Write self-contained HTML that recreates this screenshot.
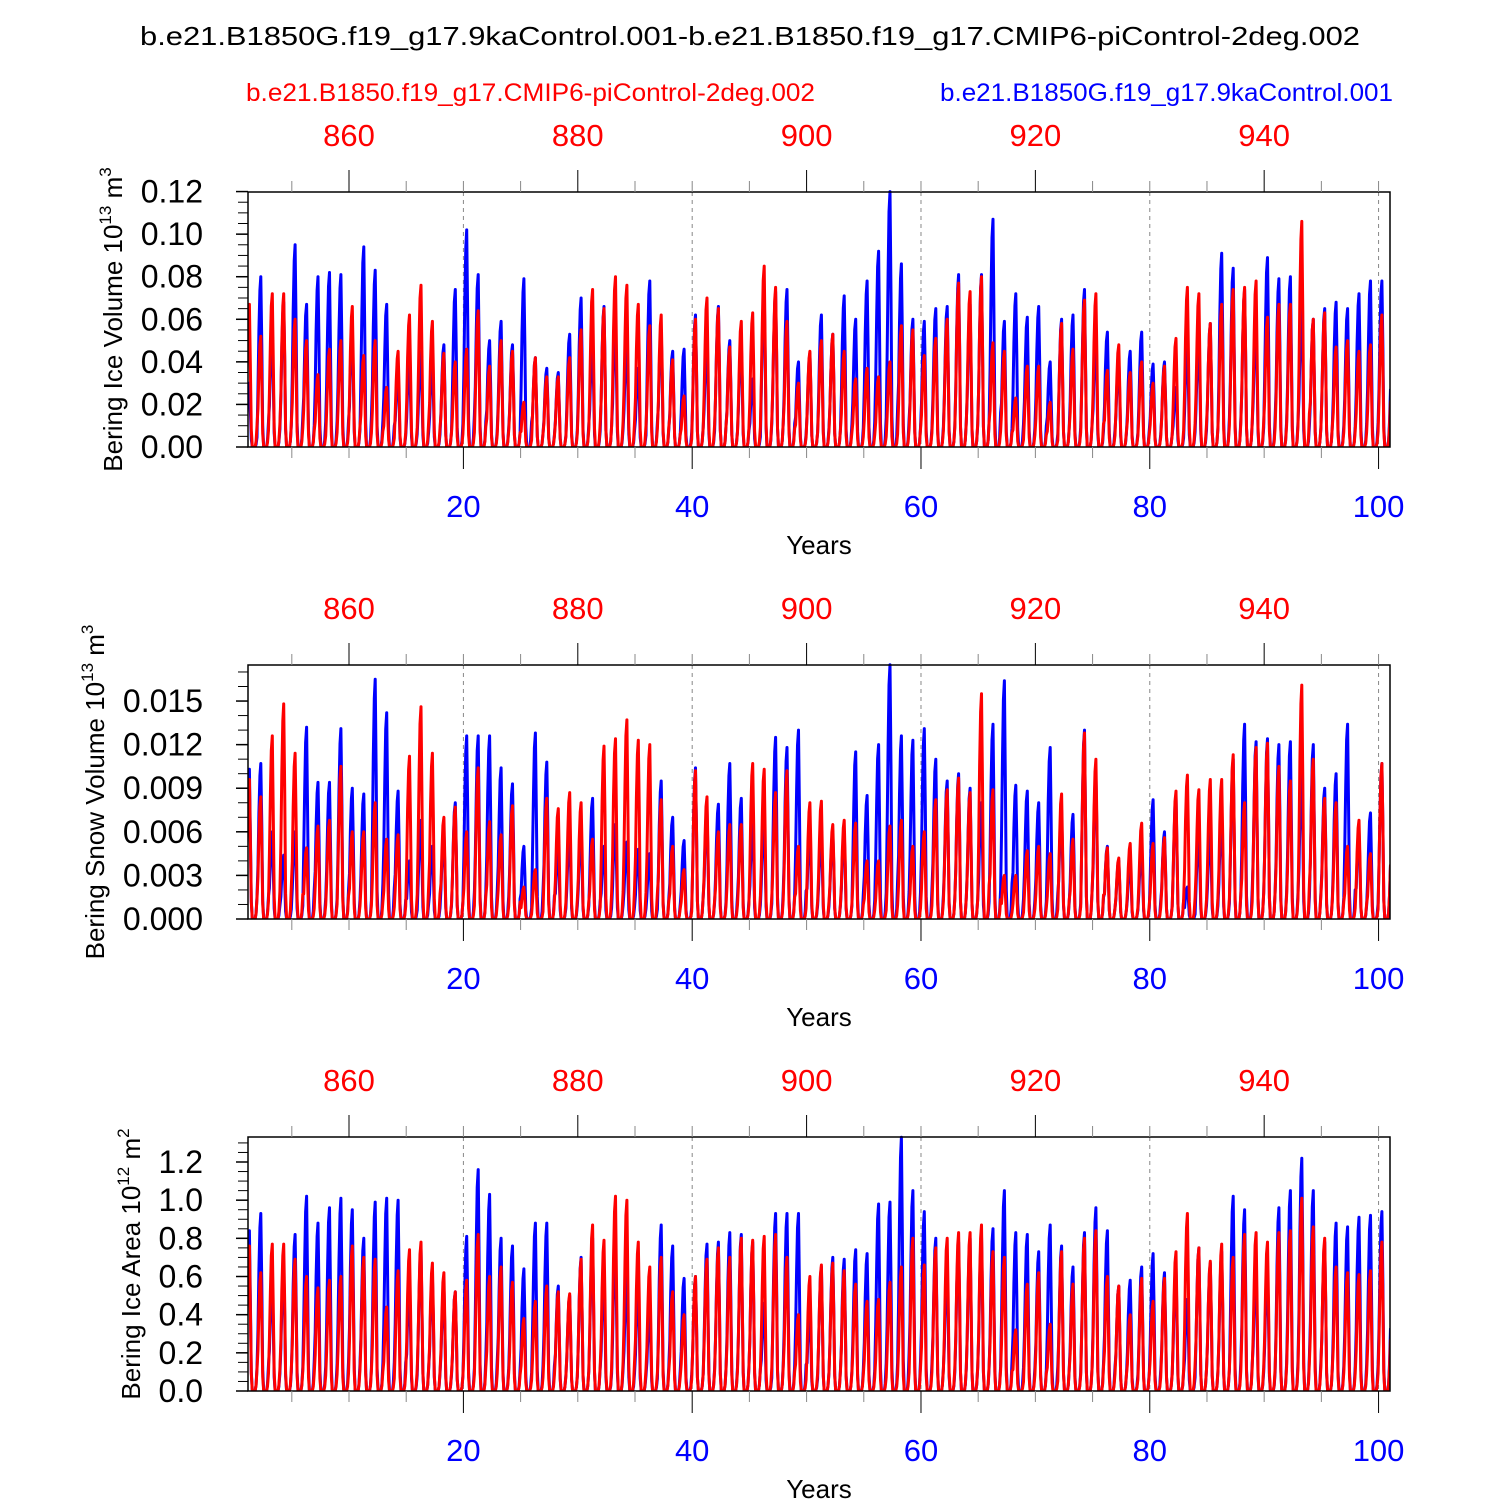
<!DOCTYPE html>
<html><head><meta charset="utf-8"><style>
html,body{margin:0;padding:0;background:#fff}
svg{display:block}
text{font-family:"Liberation Sans",Arial,sans-serif}
</style></head><body>
<svg id="chart" width="1500" height="1500" viewBox="0 0 1500 1500" xmlns="http://www.w3.org/2000/svg">
<text x="750" y="45" text-anchor="middle" font-size="26" textLength="1220" lengthAdjust="spacingAndGlyphs">b.e21.B1850G.f19_g17.9kaControl.001-b.e21.B1850.f19_g17.CMIP6-piControl-2deg.002</text>
<text x="246" y="101" font-size="25" fill="#ff0000" textLength="569" lengthAdjust="spacingAndGlyphs">b.e21.B1850.f19_g17.CMIP6-piControl-2deg.002</text>
<text x="940" y="101" font-size="25" fill="#0000ff" textLength="453" lengthAdjust="spacingAndGlyphs">b.e21.B1850G.f19_g17.9kaControl.001</text>
</svg>
<script>
const iceBlue=[0.030,0.080,0.055,0.068,0.095,0.067,0.080,0.082,0.081,0.055,0.094,0.083,0.067,0.035,0.040,0.045,0.040,0.048,0.074,0.102,0.081,0.050,0.059,0.048,0.079,0.042,0.037,0.035,0.053,0.070,0.050,0.066,0.058,0.050,0.037,0.078,0.055,0.045,0.046,0.062,0.050,0.066,0.050,0.050,0.032,0.074,0.073,0.074,0.040,0.044,0.062,0.053,0.071,0.060,0.078,0.092,0.120,0.086,0.060,0.059,0.065,0.066,0.081,0.067,0.081,0.107,0.059,0.072,0.061,0.066,0.040,0.060,0.062,0.074,0.051,0.054,0.042,0.045,0.054,0.039,0.040,0.028,0.048,0.052,0.058,0.091,0.084,0.074,0.061,0.089,0.079,0.080,0.065,0.060,0.065,0.068,0.065,0.072,0.078,0.078];
const iceRed=[0.067,0.052,0.072,0.072,0.060,0.050,0.034,0.046,0.050,0.066,0.043,0.050,0.028,0.045,0.062,0.076,0.059,0.044,0.040,0.046,0.064,0.038,0.050,0.045,0.021,0.042,0.033,0.033,0.042,0.055,0.074,0.065,0.080,0.076,0.067,0.057,0.062,0.041,0.024,0.060,0.070,0.065,0.047,0.059,0.063,0.085,0.075,0.059,0.030,0.045,0.050,0.053,0.045,0.032,0.037,0.033,0.040,0.057,0.055,0.043,0.051,0.060,0.077,0.073,0.080,0.049,0.045,0.023,0.038,0.038,0.021,0.058,0.046,0.069,0.072,0.036,0.048,0.035,0.040,0.030,0.038,0.051,0.075,0.072,0.058,0.067,0.074,0.075,0.078,0.061,0.067,0.067,0.106,0.060,0.063,0.047,0.050,0.045,0.048,0.062];
const snowBlue=[0.0103,0.0107,0.0060,0.0044,0.0060,0.0132,0.0094,0.0094,0.0131,0.0090,0.0086,0.0165,0.0142,0.0088,0.0040,0.0068,0.0050,0.0060,0.0080,0.0126,0.0126,0.0126,0.0104,0.0093,0.0050,0.0128,0.0108,0.0050,0.0060,0.0060,0.0083,0.0050,0.0065,0.0053,0.0048,0.0045,0.0095,0.0070,0.0054,0.0104,0.0075,0.0079,0.0107,0.0083,0.0065,0.0070,0.0125,0.0118,0.0130,0.0060,0.0060,0.0060,0.0060,0.0115,0.0085,0.0120,0.0175,0.0126,0.0123,0.0131,0.0110,0.0095,0.0100,0.0090,0.0080,0.0134,0.0164,0.0092,0.0088,0.0080,0.0118,0.0075,0.0072,0.0130,0.0100,0.0050,0.0040,0.0040,0.0050,0.0082,0.0060,0.0085,0.0022,0.0060,0.0060,0.0070,0.0110,0.0134,0.0122,0.0124,0.0120,0.0122,0.0100,0.0120,0.0090,0.0100,0.0134,0.0060,0.0073,0.0107];
const snowRed=[0.0096,0.0084,0.0126,0.0148,0.0114,0.0049,0.0064,0.0068,0.0105,0.0060,0.0060,0.0080,0.0055,0.0058,0.0112,0.0146,0.0114,0.0070,0.0077,0.0060,0.0104,0.0067,0.0058,0.0078,0.0022,0.0034,0.0083,0.0076,0.0087,0.0080,0.0055,0.0119,0.0124,0.0137,0.0123,0.0120,0.0082,0.0050,0.0034,0.0102,0.0084,0.0060,0.0065,0.0065,0.0107,0.0103,0.0087,0.0102,0.0050,0.0080,0.0081,0.0065,0.0068,0.0066,0.0040,0.0040,0.0064,0.0068,0.0050,0.0060,0.0082,0.0089,0.0097,0.0087,0.0155,0.0089,0.0030,0.0030,0.0047,0.0050,0.0045,0.0086,0.0055,0.0128,0.0110,0.0049,0.0042,0.0052,0.0066,0.0052,0.0056,0.0088,0.0099,0.0089,0.0096,0.0096,0.0113,0.0080,0.0118,0.0121,0.0105,0.0095,0.0161,0.0110,0.0083,0.0080,0.0050,0.0068,0.0045,0.0107];
const areaBlue=[0.84,0.93,0.60,0.65,0.82,1.02,0.88,0.96,1.01,0.95,0.80,0.99,1.01,1.00,0.55,0.75,0.60,0.55,0.52,0.81,1.16,1.03,0.80,0.76,0.64,0.88,0.88,0.55,0.50,0.70,0.80,0.60,0.78,0.60,0.55,0.43,0.87,0.76,0.59,0.60,0.77,0.78,0.83,0.82,0.78,0.46,0.93,0.93,0.93,0.42,0.65,0.70,0.69,0.74,0.72,0.98,0.99,1.33,1.05,0.94,0.80,0.65,0.78,0.80,0.81,0.85,1.05,0.83,0.82,0.73,0.87,0.76,0.65,0.83,0.96,0.84,0.55,0.58,0.65,0.72,0.62,0.65,0.48,0.75,0.67,0.73,1.02,0.95,0.67,0.64,0.96,1.05,1.22,1.05,0.78,0.88,0.86,0.91,0.92,0.94];
const areaRed=[0.76,0.62,0.77,0.77,0.69,0.60,0.54,0.58,0.60,0.76,0.70,0.69,0.44,0.63,0.74,0.78,0.67,0.62,0.52,0.58,0.82,0.60,0.65,0.57,0.38,0.47,0.55,0.52,0.51,0.69,0.87,0.79,1.02,1.00,0.78,0.65,0.70,0.52,0.40,0.60,0.69,0.75,0.70,0.80,0.79,0.81,0.82,0.70,0.40,0.60,0.66,0.67,0.63,0.56,0.47,0.48,0.57,0.65,0.80,0.66,0.75,0.80,0.83,0.83,0.87,0.73,0.70,0.32,0.56,0.62,0.35,0.73,0.56,0.80,0.84,0.60,0.55,0.40,0.59,0.47,0.59,0.73,0.93,0.75,0.68,0.77,0.70,0.82,0.83,0.78,0.83,0.84,1.01,0.86,0.80,0.65,0.62,0.61,0.63,0.78];
const seasonShape=[0.35,0.68,0.92,1.0,0.6,0.12,0.0,0.0,0.0,0.0,0.04,0.15];
const bottomTicks=[20,40,60,80,100];
const topTicks=[860,880,900,920,940];

const NS='http://www.w3.org/2000/svg';
const svg=document.getElementById('chart');
const X0=248,X1=1390,T0=1.17,T1=101.0;
const xs=t=>X0+(t-T0)*(X1-X0)/(T1-T0);
function el(tag,attrs,parent){const e=document.createElementNS(NS,tag);for(const k in attrs)e.setAttribute(k,attrs[k]);(parent||svg).appendChild(e);return e;}

const panels=[
 {key:'ice-volume',top:192,bot:447,ymax:0.1198,ticks:[0,0.02,0.04,0.06,0.08,0.10,0.12],dec:2,minor:0.005,blue:iceBlue,red:iceRed,label:'Bering Ice Volume 10',exp:'13',unit:' m',uexp:'3',lx:122},
 {key:'snow-volume',top:665,bot:919,ymax:0.01748,ticks:[0,0.003,0.006,0.009,0.012,0.015],dec:3,minor:0.001,blue:snowBlue,red:snowRed,label:'Bering Snow Volume 10',exp:'13',unit:' m',uexp:'3',lx:104},
 {key:'ice-area',top:1137,bot:1391,ymax:1.331,ticks:[0,0.2,0.4,0.6,0.8,1.0,1.2],dec:1,minor:0.05,blue:areaBlue,red:areaRed,label:'Bering Ice Area 10',exp:'12',unit:' m',uexp:'2',lx:140}
];

panels.forEach((p,pi)=>{
 const g=el('g',{});
 
 
 const ys=v=>p.bot-v*(p.bot-p.top)/p.ymax;
 const cid='clip'+pi;
 const cp=el('clipPath',{id:cid},g);el('rect',{x:X0,y:p.top-2,width:X1-X0,height:p.bot-p.top+2},cp);
 bottomTicks.forEach(t=>{const l=el('line',{x1:xs(t),x2:xs(t),y1:p.top,y2:p.bot,stroke:'#888','stroke-width':1,'stroke-dasharray':'4,4'},g);
  });
 [['blue',p.blue,'#0000ff'],['red',p.red,'#ff0000']].forEach(([nm,arr,col])=>{
  const pts=[];
  arr.forEach((pk,i)=>{const yr=i+1;seasonShape.forEach((s,m)=>{const t=yr+(m+0.5)/12;pts.push([xs(t),ys(pk*s)]);});});
  pts.push([xs(101.04),ys(arr[arr.length-1]*0.35)]);
  const d=pts.map((q,i)=>(i?'L':'M')+q[0].toFixed(1)+','+q[1].toFixed(1)).join('');
  const path=el('path',{d:d,fill:'none',stroke:col,'stroke-width':3,'stroke-linejoin':'round','clip-path':'url(#'+cid+')'},g);
  
  
 });
 const frame=el('rect',{x:X0,y:p.top,width:X1-X0,height:p.bot-p.top,fill:'none',stroke:'#000','stroke-width':1.5},g);
 
 for(let v=0;v<=p.ymax+1e-9;v+=p.minor){el('line',{x1:X0-10,x2:X0,y1:ys(v),y2:ys(v),stroke:'#000','stroke-width':1},g);}
 p.ticks.forEach(v=>{el('line',{x1:X0-12,x2:X0,y1:ys(v),y2:ys(v),stroke:'#000','stroke-width':1.5},g);
  const tx=el('text',{x:203,y:ys(v)+11,'text-anchor':'end','font-size':32},g);tx.textContent=v.toFixed(p.dec);
  });
 const yt=el('text',{transform:'translate('+p.lx+','+((p.top+p.bot)/2)+') rotate(-90)','text-anchor':'middle','font-size':26},g);
 
 yt.innerHTML=p.label+'<tspan dy="-11" font-size="17">'+p.exp+'</tspan><tspan dy="11">'+p.unit+'</tspan><tspan dy="-11" font-size="17">'+p.uexp+'</tspan>';
 for(let t=5;t<=100;t+=5){const maj=t%20===0;
  el('line',{x1:xs(t),x2:xs(t),y1:p.bot,y2:p.bot+(maj?22:11),stroke:maj?'#000':'#888','stroke-width':1},g);
  el('line',{x1:xs(t),x2:xs(t),y1:p.top,y2:p.top-(t%20===10?22:11),stroke:t%20===10?'#000':'#888','stroke-width':1},g);}
 bottomTicks.forEach(t=>{const tx=el('text',{x:xs(t),y:p.bot+70,'text-anchor':'middle','font-size':31,fill:'#0000ff'},g);tx.textContent=t;
  });
 topTicks.forEach(t=>{const tx=el('text',{x:xs(t-850),y:p.top-46,'text-anchor':'middle','font-size':31,fill:'#ff0000'},g);tx.textContent=t;
  });
 const xt=el('text',{x:819,y:p.bot+107,'text-anchor':'middle','font-size':26},g);xt.textContent='Years';
 
});
</script>
</body></html>
